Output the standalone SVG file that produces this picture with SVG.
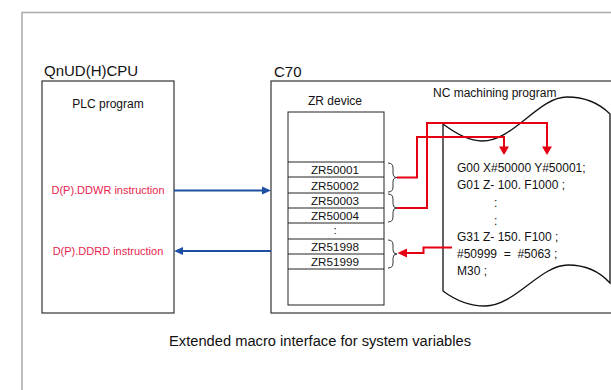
<svg xmlns="http://www.w3.org/2000/svg" width="611" height="390" viewBox="0 0 611 390">
<style>
text{font-family:"Liberation Sans",Arial,Helvetica,sans-serif;fill:#111}
.box{fill:#fff;stroke:#333;stroke-width:1.2}
.row{stroke:#222;stroke-width:1}
.lbl{font-size:12px}
.zr{font-size:11.7px;text-anchor:middle}
.code{font-size:12px}
.red{fill:none;stroke:#e60012;stroke-width:2}
.blue{fill:none;stroke:#1d50a2;stroke-width:2}
.brace{fill:none;stroke:#222;stroke-width:0.9}
.inst{font-size:11px;fill:#e61e4d;text-anchor:middle}
</style>
<rect width="611" height="390" fill="#fff"/>
<rect x="22" y="12.5" width="640" height="420" fill="none" stroke="#aaa" stroke-width="1.5"/>

<g id="plc">
<rect class="box" x="42" y="81" width="132" height="232"/>
<text x="44" y="76" font-size="15">QnUD(H)CPU</text>
<text class="lbl" x="108" y="107.5" text-anchor="middle">PLC program</text>
<text class="inst" x="108" y="194">D(P).DDWR instruction</text>
<text class="inst" x="108" y="254.5">D(P).DDRD instruction</text>
</g>

<g id="c70">
<rect class="box" x="271" y="81" width="400" height="232"/>
<text x="274" y="77" font-size="15">C70</text>
</g>

<g id="zr-device">
<rect x="288" y="112" width="96" height="193" fill="#fff" stroke="#222" stroke-width="1"/>
<text class="lbl" x="335" y="105" text-anchor="middle">ZR device</text>
<line class="row" x1="288" y1="162" x2="384" y2="162"/>
<line class="row" x1="288" y1="177" x2="384" y2="177"/>
<line class="row" x1="288" y1="193" x2="384" y2="193"/>
<line class="row" x1="288" y1="208" x2="384" y2="208"/>
<line class="row" x1="288" y1="223" x2="384" y2="223"/>
<line class="row" x1="288" y1="239" x2="384" y2="239"/>
<line class="row" x1="288" y1="254" x2="384" y2="254"/>
<line class="row" x1="288" y1="269" x2="384" y2="269"/>
<text class="zr" x="335" y="174">ZR50001</text>
<text class="zr" x="335" y="189.5">ZR50002</text>
<text class="zr" x="335" y="205">ZR50003</text>
<text class="zr" x="335" y="220">ZR50004</text>
<text class="zr" x="335" y="234">:</text>
<text class="zr" x="335" y="251">ZR51998</text>
<text class="zr" x="335" y="266">ZR51999</text>
<path class="brace" d="M388,163 Q393,163 393,168 L393,173 Q393,177.5 397,177.5 Q393,177.5 393,182 L393,187 Q393,192 388,192"/>
<path class="brace" d="M388,194 Q393,194 393,199 L393,204 Q393,208 397,208 Q393,208 393,212 L393,217 Q393,222 388,222"/>
<path class="brace" d="M388,240 Q393,240 393,245 L393,250 Q393,254 397,254 Q393,254 393,258 L393,263 Q393,268 388,268"/>
</g>

<g id="nc-program">
<text class="lbl" x="433" y="97">NC machining program</text>
<path d="M443,124 C455,133 468,141 482,141 C514,141 538,97 567,97 C585,97 600,104 610,114 L610,283 C600,272 585,265 568,265 C540,265 515,306 485,306 C470,306 455,300 443,291 Z" fill="#fff" stroke="#111" stroke-width="1.3"/>
</g>

<g id="connectors">
<path class="blue" d="M174,190.5 H262"/>
<polygon points="262,186.5 271,190.5 262,194.5" fill="#1d50a2"/>
<path class="blue" d="M271,251 H183"/>
<polygon points="183,247 174,251 183,255" fill="#1d50a2"/>
<path class="red" d="M397,177.5 H417 V137 H504 V147"/>
<polygon points="499,146.5 509,146.5 504,155" fill="#e60012"/>
<path class="red" d="M397,208 H427 V123 H547 V147"/>
<polygon points="542,146.5 552,146.5 547,155" fill="#e60012"/>
<path class="red" d="M452,247.5 H423.5 V253 H406"/>
<polygon points="407,248.5 407,257.5 397.5,253" fill="#e60012"/>
</g>

<g id="code">
<text class="code" x="457" y="172">G00 X#50000 Y#50001;</text>
<text class="code" x="457" y="189">G01 Z- 100. F1000 ;</text>
<text class="code" x="494" y="207">:</text>
<text class="code" x="494" y="225">:</text>
<text class="code" x="457" y="241">G31 Z- 150. F100 ;</text>
<text class="code" x="457" y="258">#50999 &#160;= &#160;#5063 ;</text>
<text class="code" x="457" y="275">M30 ;</text>
</g>

<text x="169" y="346" font-size="14.7">Extended macro interface for system variables</text>
</svg>
